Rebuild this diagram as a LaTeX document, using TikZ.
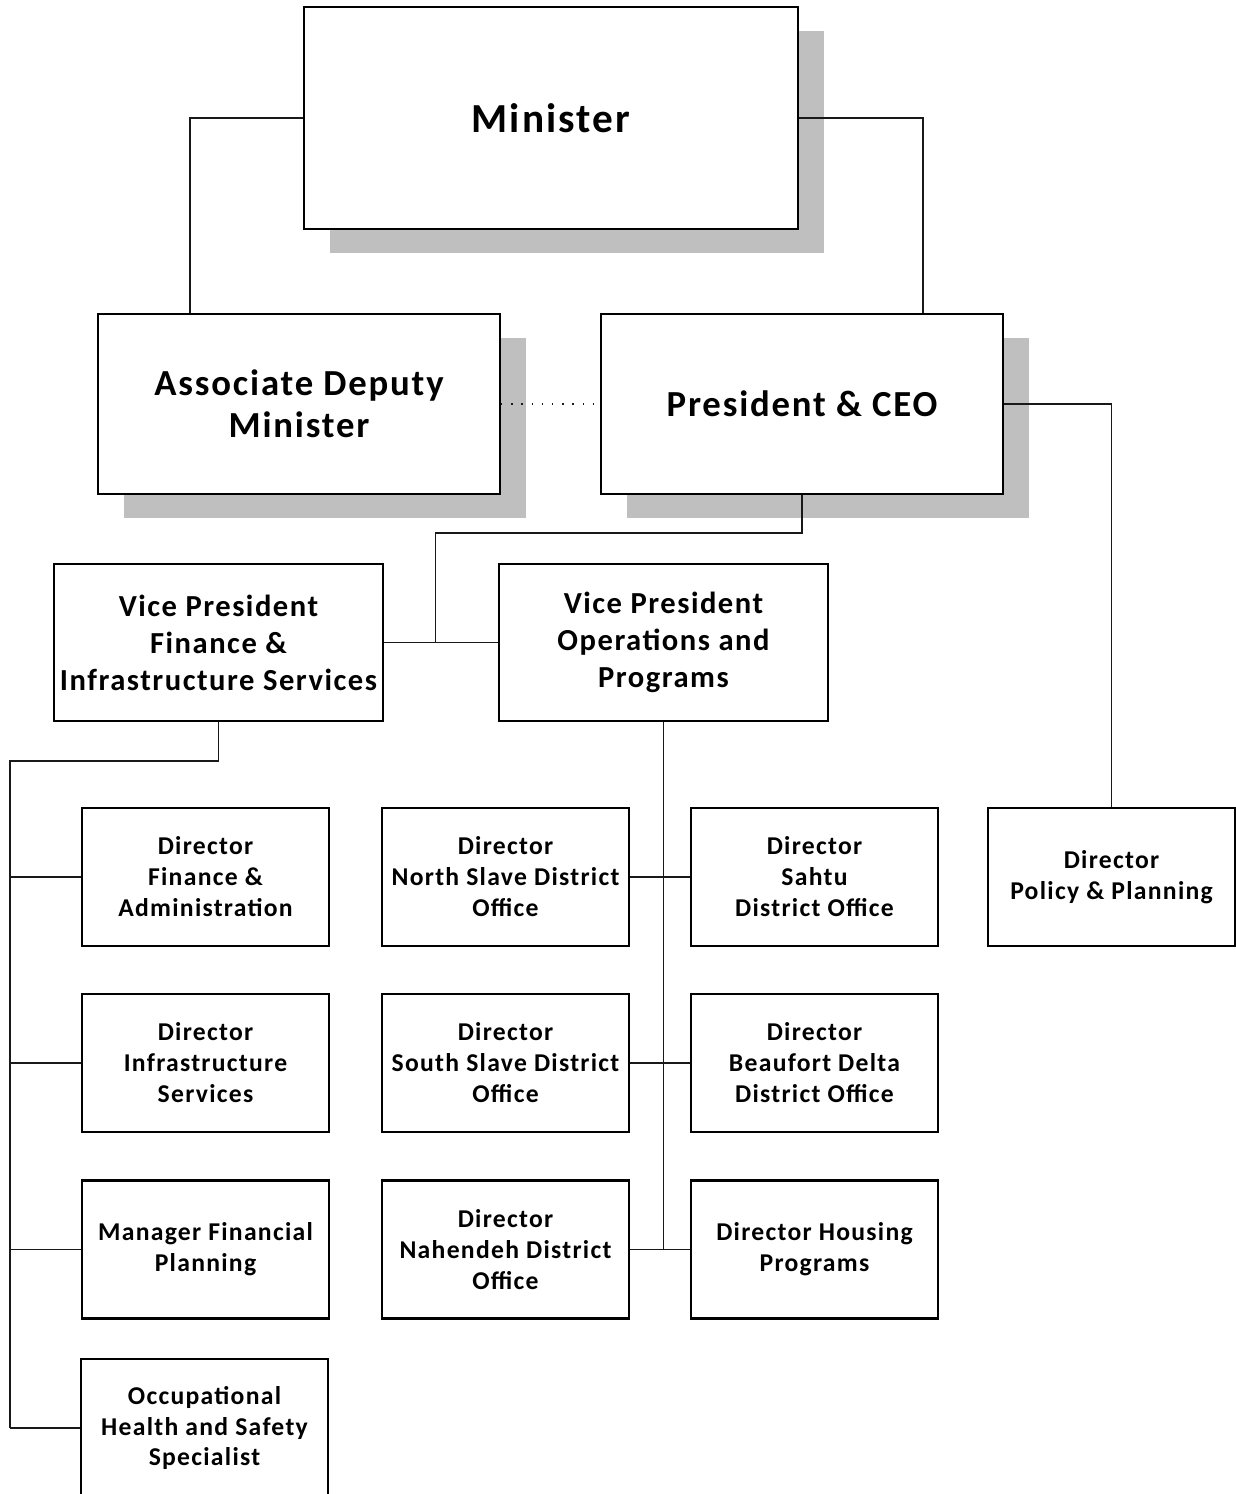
\documentclass[tikz,border=0pt]{standalone}
\usepackage{fontspec}
\setmainfont{Carlito}[LetterSpace=5]
\usepackage{tikz}
\usetikzlibrary{calc,shadows}
\definecolor{ink}{gray}{0.0}
\definecolor{wire}{gray}{0.1}
\definecolor{shade}{gray}{0.75}
\tikzset{
  unit/.style={draw=ink, line width=1.2pt, fill=white, align=center, inner sep=2pt,
               text=ink, font=\bfseries},
  shadowed/.style={drop shadow={shadow xshift=0.52cm, shadow yshift=-0.48cm,
                   fill=shade, opacity=1}},
  topbox/.style={unit, shadowed, minimum width=9.88cm, minimum height=4.44cm,
                 font=\fontsize{23.5}{28}\selectfont\bfseries},
  headbox/.style={unit, shadowed, minimum width=8.04cm, minimum height=3.6cm,
                  font=\fontsize{20.9}{23.8}\selectfont\bfseries},
  vpbox/.style={unit, minimum width=6.58cm, minimum height=3.14cm,
                font=\fontsize{17.4}{21}\selectfont\bfseries},
  dirbox/.style={unit, minimum width=4.94cm, minimum height=2.76cm,
                 font=\fontsize{14.6}{17.6}\selectfont\bfseries},
  link/.style={draw=wire, line width=0.7pt},
  dots/.style={draw=wire, line width=0.8pt, dash pattern=on 0.8pt off 5pt},
}

\begin{document}
\begin{tikzpicture}[x=0.02cm, y=-0.02cm]
    \useasboundingbox (0,0) rectangle (1236,1494);

    % top levels
    \node[topbox]  (min)  at (551,118)   {Minister};
    \node[headbox] (adm)  at (299,404)   {Associate Deputy\\Minister};
    \node[headbox] (pres) at (802,404)   {President \& CEO};

    % vice presidents
    \node[vpbox] (vpf) at (218.5,642.5) {Vice President\\Finance \&\\Infrastructure Services};
    \node[vpbox] (vpo) at (663.5,642.5) {Vice President\\Operations and\\Programs};

    % directors
    \node[dirbox] (dpp) at (1111.5,877) {Director\\Policy \& Planning};
    \node[dirbox] (dfa) at (205.5,877)  {Director\\Finance \&\\Administration};
    \node[dirbox] (dis) at (205.5,1063) {Director\\Infrastructure\\Services};
    \node[dirbox] (mfp) at (205.5,1249.5) {Manager Financial\\Planning};
    \node[dirbox] (ohs) at (204.5,1428) {Occupational\\Health and Safety\\Specialist};
    \node[dirbox] (dns) at (505.5,877)  {Director\\North Slave District\\Office};
    \node[dirbox] (dss) at (505.5,1063) {Director\\South Slave District\\Office};
    \node[dirbox] (dnd) at (505.5,1249.5) {Director\\Nahendeh District\\Office};
    \node[dirbox] (dsa) at (814.5,877)  {Director\\Sahtu\\District Office};
    \node[dirbox] (dbd) at (814.5,1063) {Director\\Beaufort Delta\\District Office};
    \node[dirbox] (dhp) at (814.5,1249.5) {Director Housing\\Programs};

    \coordinate (vpj)  at ($(vpf.east)!0.45!(vpo.west)$);
    \coordinate (fbus) at (10,761);

    \draw[link] (min.west) -| ([xshift=-2.18cm]adm.north);
    \draw[link] (min.east) -| ([xshift=2.42cm]pres.north);
    \draw[dots] (adm.east) -- (pres.west);
    \draw[link] (pres.east) -| (dpp.north);
    \draw[link] (pres.south) -- ++(0,38) -| (vpj);
    \draw[link] (vpf.east) -- (vpo.west);

    % finance branch
    \draw[link] (vpf.south) |- (fbus) -- (fbus |- ohs.west);
    \foreach \n in {dfa,dis,mfp,ohs}
      \draw[link] (\n.west) -- (fbus |- \n.west);

    % operations branch
    \draw[link] (vpo.south) -- (vpo.south |- dhp.west);
    \draw[link] (dns.east) -- (dsa.west);
    \draw[link] (dss.east) -- (dbd.west);
    \draw[link] (dnd.east) -- (dhp.west);
  \end{tikzpicture}
\end{document}
